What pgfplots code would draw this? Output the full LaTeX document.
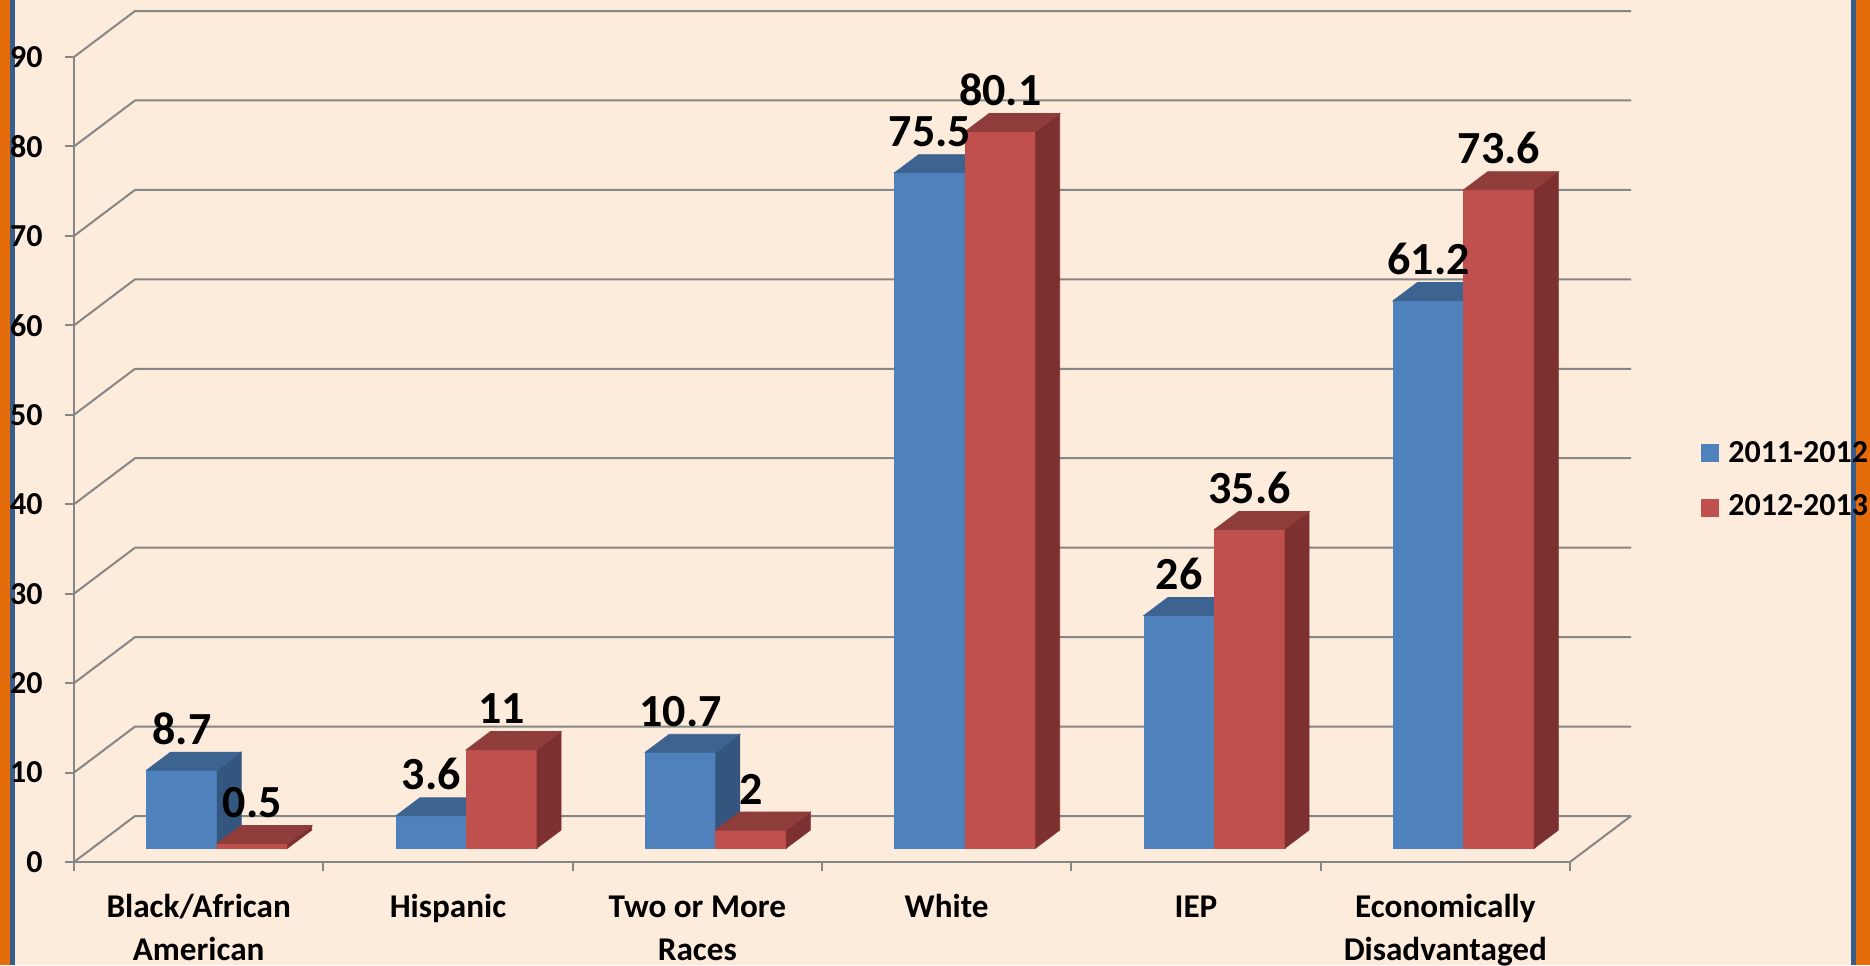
\documentclass[border=0pt]{standalone}
\usepackage{pgfplots}
\pgfplotsset{compat=1.18}
\usepackage{pgfplotstable}
\usepackage{fontspec}
\setmainfont{Carlito}
\definecolor{bg}{RGB}{253,235,220}
\definecolor{borderO}{RGB}{228,108,10}
\definecolor{borderB}{RGB}{56,93,138}
\definecolor{gridc}{RGB}{134,134,134}
\definecolor{blueF}{RGB}{79,129,189}
\definecolor{blueT}{RGB}{61,100,145}
\definecolor{blueS}{RGB}{52,85,126}
\definecolor{redF}{RGB}{192,80,77}
\definecolor{redT}{RGB}{143,61,59}
\definecolor{redS}{RGB}{124,48,47}
\pgfdeclareplotmark{empty}{}
\pgfplotstableread{
c v
0 8.7
1 3.6
2 10.7
3 75.5
4 26
5 61.2
}\bluedata
\pgfplotstableread{
c v
0 0.5
1 11
2 2
3 80.1
4 35.6
5 73.6
}\reddata
\begin{document}
\begin{tikzpicture}
\fill[bg] (-37pt,-51.5pt) rectangle (898pt,431pt);
\fill[borderO] (-37pt,-51.5pt) rectangle (-32pt,431pt);
\fill[borderB] (-32pt,-51.5pt) rectangle (-29.5pt,431pt);
\fill[borderB] (888.5pt,-51.5pt) rectangle (891pt,431pt);
\fill[borderO] (891pt,-51.5pt) rectangle (898pt,431pt);
\begin{axis}[
  scale only axis, width=748pt, height=402.5pt,
  xmin=-0.5, xmax=5.5, ymin=0, ymax=90,
  clip=false,
  axis x line*=bottom, axis y line*=left,
  axis line style={gridc, line width=1pt},
  tick align=outside,
  major tick length=4.5pt,
  tick style={gridc, line width=1pt},
  ytick={0,10,...,90},
  xtick={-0.5,0.5,...,5.5}, xticklabels={},
  extra x ticks={0,1,2,3,4,5},
  extra x tick labels={{\strut Black/African\\\strut American},{\strut Hispanic},{\strut Two or More\\\strut Races},{\strut White},{\strut IEP},{\strut Economically\\\strut Disadvantaged}},
  extra x tick style={major tick length=0pt},
  tick label style={font=\bfseries\fontsize{16}{21}\selectfont, text=black},
  xticklabel style={align=center, anchor=north, inner sep=0pt, yshift=-12.6pt, font=\bfseries\fontsize{16.6}{21.3}\selectfont},
  yticklabel style={anchor=east, inner sep=0pt, xshift=-11pt},
  /pgf/number format/assume math mode=true,
]
\pgfplotsinvokeforeach{0,10,...,90}{
  \draw[gridc, line width=1pt] (axis cs:-0.5,#1) -- ++(30.5pt,23pt) -- ++(axis direction cs:6,0);
}
\draw[gridc, line width=1pt] (axis cs:5.5,0) -- ++(30.5pt,23pt);
\addplot[scatter, only marks, mark=empty, visualization depends on={rawy \as \vv},
  scatter/@pre marker code/.code={%
    \fill[blueF] (-26pt,7pt) -- ++(axis direction cs:0,-\vv) -- ++(35.25pt,0pt) -- ++(axis direction cs:0,\vv) -- cycle;
    \fill[blueS] (9.25pt,7pt) -- ++(axis direction cs:0,-\vv) -- ++(12pt,9pt) -- ++(axis direction cs:0,\vv) -- cycle;
    \fill[blueT] (-26pt,7pt) -- ++(35.25pt,0pt) -- ++(12pt,9pt) -- ++(-35.25pt,0pt) -- cycle;
  },
  scatter/@post marker code/.code={}]
  table[x=c,y=v]{\bluedata};
\addplot[scatter, only marks, mark=empty, visualization depends on={rawy \as \vv},
  scatter/@pre marker code/.code={%
    \fill[redF] (9.25pt,7pt) -- ++(axis direction cs:0,-\vv) -- ++(35.25pt,0pt) -- ++(axis direction cs:0,\vv) -- cycle;
    \fill[redS] (44.5pt,7pt) -- ++(axis direction cs:0,-\vv) -- ++(12pt,9pt) -- ++(axis direction cs:0,\vv) -- cycle;
    \fill[redT] (9.25pt,7pt) -- ++(35.25pt,0pt) -- ++(12pt,9pt) -- ++(-35.25pt,0pt) -- cycle;
  },
  scatter/@post marker code/.code={}]
  table[x=c,y=v]{\reddata};
\addplot[only marks, mark=empty, forget plot, point meta=explicit symbolic,
  nodes near coords={\pgfplotspointmeta},
  every node near coord/.append style={anchor=base, xshift=-8.375pt, yshift=20pt, inner sep=0pt, font=\bfseries\fontsize{23}{27}\selectfont, text=black}]
  table[x=c,y=v,meta=v]{\bluedata};
\addplot[only marks, mark=empty, forget plot, point meta=explicit symbolic,
  nodes near coords={\pgfplotspointmeta},
  every node near coord/.append style={anchor=base, xshift=26.875pt, yshift=20pt, inner sep=0pt, font=\bfseries\fontsize{23}{27}\selectfont, text=black}]
  table[x=c,y=v,meta=v]{\reddata};
\end{axis}
\fill[blueF] (813.5pt,200pt) rectangle (822.5pt,209pt);
\node[anchor=base west, inner sep=0pt, font=\bfseries\fontsize{16}{19}\selectfont] at (827pt,199.8pt) {2011-2012};
\fill[redF] (813.5pt,172.6pt) rectangle (822.5pt,181.5pt);
\node[anchor=base west, inner sep=0pt, font=\bfseries\fontsize{16}{19}\selectfont] at (827pt,173.2pt) {2012-2013};
\pgfresetboundingbox
\useasboundingbox (-37pt,-51.5pt) rectangle (898pt,431pt);
\end{tikzpicture}
\end{document}
